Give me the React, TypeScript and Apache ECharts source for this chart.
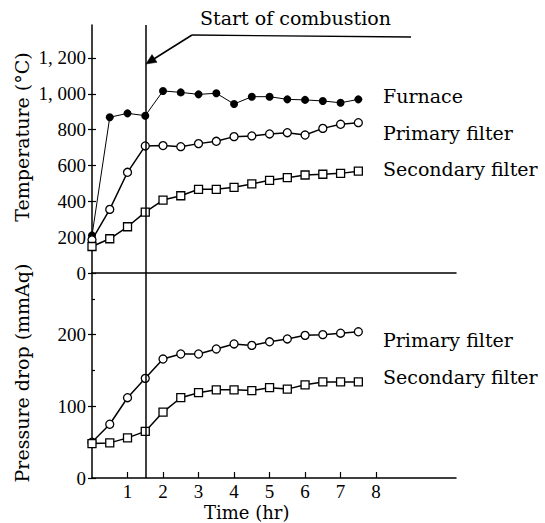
import React, { useEffect, useRef } from "react";
import * as echarts from "echarts";

const hours = [0, 0.5, 1, 1.5, 2, 2.5, 3, 3.5, 4, 4.5, 5, 5.5, 6, 6.5, 7, 7.5];
const furnaceTemp = [210, 869, 891, 878, 1016, 1008, 997, 1003, 943, 984, 984, 969, 966, 960, 950, 969];
const primaryTemp = [185, 355, 562, 709, 711, 705, 722, 735, 761, 765, 776, 783, 770, 807, 830, 839];
const secondaryTemp = [148, 191, 258, 340, 407, 431, 467, 467, 478, 497, 517, 532, 547, 551, 556, 568];
const primaryDrop = [50, 75, 112, 139, 166, 173, 173, 180, 187, 185, 190, 194, 199, 200, 202, 204];
const secondaryDrop = [48, 49, 56, 65, 92, 112, 119, 123, 123, 122, 126, 124, 130, 134, 134, 134];

const combustionStart = 1.5;
const timeTicks = [1, 2, 3, 4, 5, 6, 7, 8];
const tempTicks = [0, 200, 400, 600, 800, 1000, 1200];
const tempTickLabels = ["0", "200", "400", "600", "800", "1, 000", "1, 200"];
const dropTicks = [0, 100, 200];
const dropMinorTicks = [50, 150, 250];

const NUM_FONT = "Liberation Serif";
const TXT_FONT = "DejaVu Serif";

const pairs = (vals: number[]) => vals.map((v, i) => [hours[i], v]);

export default function App() {
  const ref = useRef<HTMLDivElement>(null);
  useEffect(() => {
    if (!ref.current) return;
    const chart = echarts.init(ref.current, null, { renderer: "svg" });
    const black = "#000";
    const lineW = 1.5;
    const baseX = (gridIndex: number) => ({
      gridIndex,
      type: "value" as const,
      min: 0,
      max: 10.25,
      splitLine: { show: false },
      axisLine: { show: true, onZero: false, lineStyle: { color: black, width: lineW } },
    });
    const tickAxis = (gridIndex: number, max: number, values: number[], len: number) => ({
      gridIndex,
      type: "value" as const,
      position: "left" as const,
      min: 0,
      max,
      splitLine: { show: false },
      axisLine: { show: false },
      axisTick: { show: true, inside: true, length: len, customValues: values, lineStyle: { color: black, width: 1.2 } },
      axisLabel: { show: false },
    });
    const openSym = { color: "#fff", borderColor: black, borderWidth: 1.3 };
    const markV = {
      silent: true,
      symbol: ["none", "none"],
      label: { show: false },
      lineStyle: { color: black, width: 1.5, type: "solid" as const },
      data: [{ xAxis: combustionStart }],
    };
    const txt = (text: string, left: number, top: number, size = 19) => ({
      type: "text",
      left,
      top,
      style: { text, font: `${size}px '${TXT_FONT}', serif`, fill: black, lineHeight: size },
    });
    const vTitle = (text: string, x: number, y: number) => ({
      type: "text",
      x,
      y,
      rotation: Math.PI / 2,
      style: { text, font: `19px '${TXT_FONT}', serif`, fill: black, align: "center", verticalAlign: "middle" },
    });
    const option = {
      animation: false,
      backgroundColor: "#fff",
      grid: [
        { left: 92, top: 25, width: 364, height: 248 },
        { left: 92, top: 273, width: 364, height: 205 },
      ],
      xAxis: [
        { ...baseX(0), axisTick: { show: false }, axisLabel: { show: false } },
        {
          ...baseX(1),
          axisTick: { show: true, inside: true, length: 6, customValues: timeTicks, lineStyle: { color: black, width: 1.2 } },
          axisLabel: {
            show: true,
            customValues: timeTicks,
            margin: 4,
            color: black,
            fontFamily: NUM_FONT,
            fontSize: 19,
            lineHeight: 18,
          },
        },
      ],
      yAxis: [
        {
          gridIndex: 0,
          type: "value",
          position: "left",
          min: 0,
          max: 1384,
          splitLine: { show: false },
          axisLine: { show: true, lineStyle: { color: black, width: lineW } },
          axisTick: { show: true, length: 4, customValues: tempTicks, lineStyle: { color: black, width: 1.2 } },
          axisLabel: {
            show: true,
            customValues: tempTicks,
            margin: 6,
            color: black,
            fontFamily: NUM_FONT,
            fontSize: 19,
            formatter: (v: number) => tempTickLabels[tempTicks.indexOf(v)] ?? "",
          },
        },
        tickAxis(0, 1384, tempTicks, 4),
        {
          gridIndex: 1,
          type: "value",
          position: "left",
          min: 0,
          max: 286,
          splitLine: { show: false },
          axisLine: { show: true, lineStyle: { color: black, width: lineW } },
          axisTick: { show: true, length: 4, customValues: dropTicks, lineStyle: { color: black, width: 1.2 } },
          axisLabel: {
            show: true,
            customValues: dropTicks,
            margin: 6,
            color: black,
            fontFamily: NUM_FONT,
            fontSize: 19,
          },
        },
        tickAxis(1, 286, dropTicks, 4),
        tickAxis(1, 286, dropMinorTicks, 3),
      ],
      series: [
        {
          name: "Furnace",
          type: "line",
          xAxisIndex: 0,
          yAxisIndex: 0,
          data: pairs(furnaceTemp),
          symbol: "circle",
          symbolSize: 8,
          itemStyle: { color: black },
          lineStyle: { color: black, width: 1 },
          markLine: markV,
          z: 3,
        },
        {
          name: "Primary filter",
          type: "line",
          xAxisIndex: 0,
          yAxisIndex: 0,
          data: pairs(primaryTemp),
          symbol: "circle",
          symbolSize: 8,
          showAllSymbol: true,
          itemStyle: openSym,
          lineStyle: { color: black, width: lineW },
          z: 4,
        },
        {
          name: "Secondary filter",
          type: "line",
          xAxisIndex: 0,
          yAxisIndex: 0,
          data: pairs(secondaryTemp),
          symbol: "rect",
          symbolSize: 8,
          showAllSymbol: true,
          itemStyle: openSym,
          lineStyle: { color: black, width: lineW },
          z: 4,
        },
        {
          name: "Primary filter (drop)",
          type: "line",
          xAxisIndex: 1,
          yAxisIndex: 2,
          data: pairs(primaryDrop),
          symbol: "circle",
          symbolSize: 8,
          showAllSymbol: true,
          itemStyle: openSym,
          lineStyle: { color: black, width: lineW },
          markLine: markV,
          z: 4,
        },
        {
          name: "Secondary filter (drop)",
          type: "line",
          xAxisIndex: 1,
          yAxisIndex: 2,
          data: pairs(secondaryDrop),
          symbol: "rect",
          symbolSize: 8,
          showAllSymbol: true,
          itemStyle: openSym,
          lineStyle: { color: black, width: lineW },
          z: 4,
        },
      ],
      graphic: [
        txt("Furnace", 383, 86),
        txt("Primary filter", 383, 123),
        txt("Secondary filter", 383, 159),
        txt("Primary filter", 383, 330),
        txt("Secondary filter", 383, 367),
        txt("Start of combustion", 200, 8),
        txt("Time (hr)", 204, 503, 18),
        vTitle("Temperature (°C)", 22, 137),
        vTitle("Pressure drop (mmAq)", 22, 373),
        { type: "line", shape: { x1: 192, y1: 35, x2: 411, y2: 37 }, style: { stroke: black, lineWidth: 1.3 } },
        { type: "line", shape: { x1: 192, y1: 35, x2: 153, y2: 59.5 }, style: { stroke: black, lineWidth: 1.5 } },
        {
          type: "polygon",
          shape: { points: [[146, 64], [157, 62.3], [152, 54.5]] },
          style: { fill: black, stroke: black, lineWidth: 0.5 },
        },
      ],
    };
    chart.setOption(option as any);
    return () => chart.dispose();
  }, []);
  return (
    <div
      ref={ref}
      style={{ position: "fixed", left: 0, top: 0, width: 545, height: 523, background: "#fff" }}
    />
  );
}
